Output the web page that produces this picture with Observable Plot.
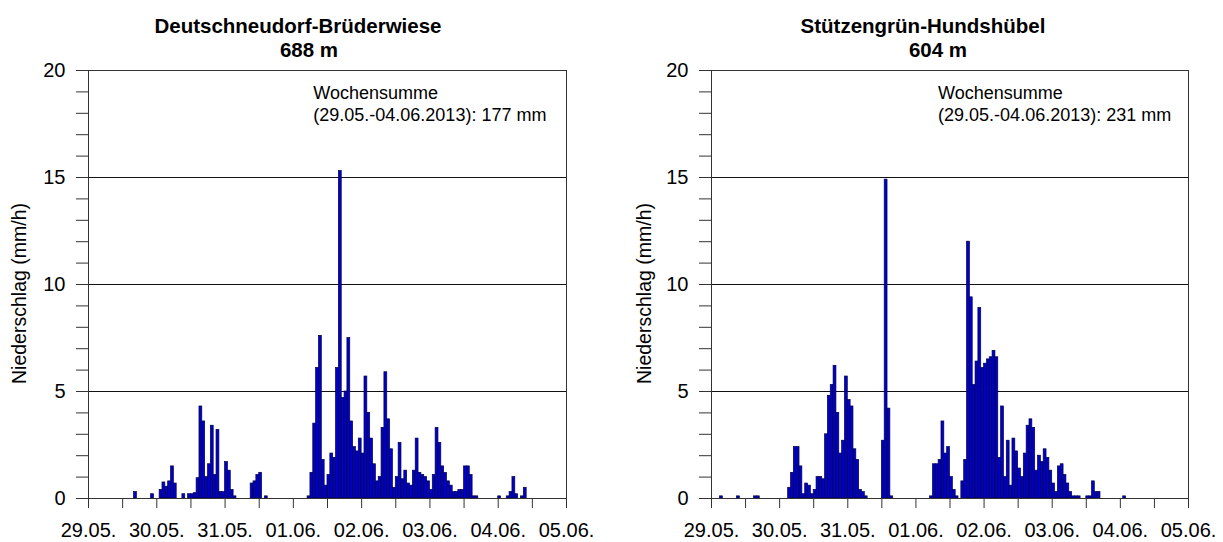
<!DOCTYPE html>
<html><head><meta charset="utf-8">
<script src="https://cdn.jsdelivr.net/npm/d3@7"></script>
<script src="https://cdn.jsdelivr.net/npm/@observablehq/plot@0.6"></script>
<style>
body{margin:0;background:#fff;font-family:"Liberation Sans",Arial,sans-serif;}
#wrap{position:relative;width:1223px;height:542px;overflow:hidden;}
.panel{position:absolute;top:0;}
.title{position:absolute;top:14px;text-align:center;font-weight:bold;font-size:20.5px;line-height:24px;color:#000;font-family:"Liberation Sans",Arial,sans-serif;}
</style></head><body><div id="wrap"></div>
<script>
// Day tick labels (one every 24 h)
const dayLabels = ["29.05.","30.05.","31.05.","01.06.","02.06.","03.06.","04.06.","05.06."];
const stationNames = ["Deutschneudorf-Brüderwiese","Stützengrün-Hundshübel"];
const elevations = ["688 m","604 m"];
const weeklySums = ["177 mm","231 mm"];
const sumPeriod = "(29.05.-04.06.2013): ";
const yLabel = "Niederschlag (mm/h)";

// Hourly precipitation (mm/h), 24 values per day, 29.05. 00h ... 04.06. 23h
const precipDeutschneudorf = [
  0,0,0,0,0,0,0,0,0,0,0,0,0,0,0,0,0.3,0,0,0,0,0,0.2,0,
  0,0.4,0.75,0.55,0.8,1.5,0.7,0,0,0.2,0,0.2,0.2,0.25,0.95,4.3,3.6,1.0,1.6,3.4,1.1,3.2,0.3,0.3,
  1.7,1.3,0.4,0.1,0,0,0,0,0,0.7,0.8,1.1,1.2,0,0.1,0,0,0,0,0,0,0,0,0,
  0,0,0,0,0,0.1,1.2,3.5,6.1,7.6,1.8,0.6,1.1,2.1,1.9,6.1,15.3,4.7,5.0,7.5,3.6,2.4,2.2,2.8,
  2.1,5.7,4.0,2.8,1.6,0.8,1.0,3.3,5.9,3.7,2.3,0.5,1.0,2.6,0.9,1.3,0.7,0.6,1.3,2.8,1.2,1.1,1.0,0.8,
  0.4,1.1,3.3,2.6,1.5,1.2,0.8,0.6,0.3,0.3,0.4,0.4,1.5,1.5,1.1,0.1,0.1,0,0,0,0,0,0,0,
  0.1,0,0,0.1,0.3,1.0,0.2,0,0.1,0.5,0,0,0,0,0,0,0,0,0,0,0,0,0,0
];
const precipStuetzengruen = [
  0,0,0,0.1,0,0,0,0,0,0.1,0,0,0,0,0,0.1,0.1,0,0,0,0,0,0,0,
  0,0,0,0.5,1.2,2.4,2.4,1.5,0.2,0.7,0.6,0.2,0.4,1.0,1.0,0.9,3.0,4.8,5.3,6.2,4.0,2.1,2.7,5.7,
  4.6,4.3,2.3,1.8,0.4,0.3,0.1,0,0,0,0,0,2.7,14.9,4.2,0.1,0,0,0,0,0,0,0,0,
  0,0,0,0,0,0.1,1.6,1.6,1.8,3.6,2.1,2.4,1.0,0.4,0.1,0,0.8,1.8,12.0,9.4,5.3,6.4,8.9,6.1,
  6.3,6.5,6.6,6.9,6.6,1.9,4.3,1.0,2.7,0.6,2.8,2.2,1.4,1.0,2.1,3.4,3.7,3.3,1.3,2.0,1.7,2.3,1.9,1.3,
  0.7,0.3,1.5,1.6,1.1,0.7,0.3,0.1,0.1,0.1,0,0,0.1,0.1,0.8,0.3,0.3,0,0,0,0,0,0,0,
  0,0.1,0,0,0,0,0,0,0,0,0,0,0,0,0,0,0,0,0,0,0,0,0,0
];

const wrap = document.getElementById("wrap");

function panel(values, idx, cfg) {
  const data = values.map((v, i) => ({h: i, v})).filter(d => d.v > 0);
  const chart = Plot.plot({
    width: cfg.width, height: 542,
    marginTop: 70, marginBottom: 44, marginLeft: cfg.ml, marginRight: cfg.mr,
    style: {fontFamily: "'Liberation Sans', Arial, sans-serif", fontSize: "20px", color: "#000", background: "#fff", overflow: "visible"},
    x: {domain: [0, 168]},
    y: {domain: [0, 20]},
    marks: [
      Plot.ruleY([5, 10, 15], {stroke: "#111", strokeWidth: 1}),
      Plot.rect(data, {x1: "h", x2: d => d.h + 1, y1: 0, y2: "v", fill: "#0000c8", stroke: "#00004a", strokeWidth: 0.7}),
      Plot.frame({stroke: "#333", strokeWidth: 1}),
      Plot.axisY({ticks: d3.range(0, 21), tickSize: 12, tickPadding: 11,
        tickFormat: d => d % 5 === 0 ? String(d) : "", label: null, stroke: "#333"}),
      Plot.axisX({ticks: d3.range(0, 169, 12), tickSize: 10, tickPadding: 14,
        tickFormat: d => d % 24 === 0 ? dayLabels[d / 24] : "", label: null, stroke: "#333"}),
      Plot.text([yLabel], {frameAnchor: "left", rotate: -90, dx: cfg.ldx, dy: 9, text: d => d, fontSize: 19.5, textAnchor: "middle", lineAnchor: "middle"}),
      Plot.text(["Wochensumme"], {x: cfg.ax, y: 18.95, text: d => d, textAnchor: "start", fontSize: 18}),
      Plot.text([sumPeriod + weeklySums[idx]], {x: cfg.ax, y: 17.9, text: d => d, textAnchor: "start", fontSize: 18})
    ]
  });
  const div = document.createElement("div");
  div.className = "panel";
  div.style.left = cfg.left + "px";
  div.appendChild(chart);
  wrap.appendChild(div);
  const t = document.createElement("div");
  t.className = "title";
  t.style.left = cfg.tLeft + "px";
  t.style.width = cfg.tWidth + "px";
  t.innerHTML = stationNames[idx] + "<br><span style=\"position:relative;left:" + cfg.l2 + "px\">" + elevations[idx] + "</span>";
  wrap.appendChild(t);
}

panel(precipDeutschneudorf, 0, {left: 0, width: 611, ml: 88, mr: 45, ax: 79, tLeft: 0, tWidth: 596, l2: 11, ldx: -69});
panel(precipStuetzengruen, 1, {left: 611, width: 612, ml: 100, mr: 35, ax: 79.8, tLeft: 611, tWidth: 624, l2: 15, ldx: -67});
</script>
</body></html>
